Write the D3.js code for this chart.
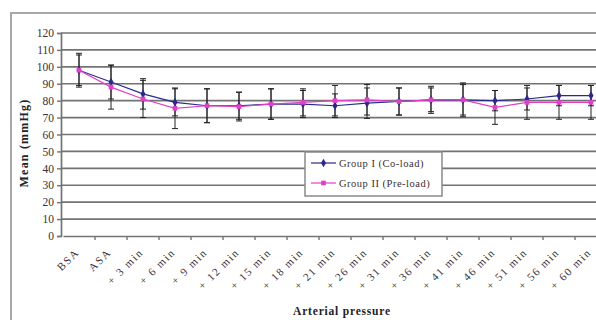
<!DOCTYPE html>
<html>
<head>
<meta charset="utf-8">
<script src="https://cdn.jsdelivr.net/npm/d3@7"></script>
<style>
  body { margin: 0; background: #fff; }
  svg { display: block; font-family: "Liberation Serif", "DejaVu Serif", serif; }
</style>
</head>
<body>
<div id="chart"></div>
<script>
const categories = ["BSA", "ASA", "+ 3 min", "+ 6 min", "+ 9 min", "+ 12 min", "+ 15 min", "+ 18 min",
  "+ 21 min", "+ 26 min", "+ 31 min", "+ 36 min", "+ 41 min", "+ 46 min", "+ 51 min", "+ 56 min", "+ 60 min"];
const group1 = [98, 91, 84, 79, 77, 77, 78, 78, 77, 78.5, 79.5, 80.5, 80.5, 80, 81, 83, 83];
const group1Err = [9, 10, 9, 8, 10, 8, 9, 8, 7, 9, 8, 7, 9, 6, 6.5, 6, 6];
const group2 = [98, 88, 81, 75.5, 77, 76.5, 78, 79, 80, 80.5, 79.5, 80.5, 80.5, 76, 79, 79, 79];
const group2Err = [10, 13, 11, 12, 10, 8.5, 9, 8, 9, 9, 8, 8, 10, 10, 10, 10, 10];
const yTicks = [0, 10, 20, 30, 40, 50, 60, 70, 80, 90, 100, 110, 120];

const series = [
  { name: "Group I (Co-load)", values: group1, err: group1Err, color: "#2a2a8a", marker: "diamond" },
  { name: "Group II (Pre-load)", values: group2, err: group2Err, color: "#e040c8", marker: "square" }
];

const W = 596, H = 320;
const svg = d3.select("#chart").append("svg").attr("width", W).attr("height", H);

// outer frame (right/bottom edges fall outside the picture)
svg.append("rect").attr("x", 11).attr("y", 13).attr("width", 620).attr("height", 340)
  .attr("fill", "#fff").attr("stroke", "#a8a8a8").attr("stroke-width", 2);

const x = d3.scaleBand().domain(categories).range([63, 63 + 32 * categories.length]);
const y = d3.scaleLinear().domain([0, 120]).range([236, 33]);
const cx = c => x(c) + x.bandwidth() / 2;

// gridlines
svg.append("g").selectAll("line").data(yTicks.filter(d => d > 0)).join("line")
  .attr("x1", 61).attr("x2", W).attr("y1", d => y(d)).attr("y2", d => y(d))
  .attr("stroke", "#737373").attr("stroke-width", 1.7);

// axes
const yAxis = svg.append("g").attr("transform", "translate(61,0)")
  .call(d3.axisLeft(y).tickValues(yTicks).tickSize(4).tickPadding(3));
yAxis.select(".domain").attr("stroke", "#737373").attr("stroke-width", 1.7);
yAxis.selectAll(".tick line").attr("stroke", "#737373").attr("stroke-width", 1.4);
yAxis.selectAll("text").attr("font-size", 11.5).attr("fill", "#3a3030")
  .attr("font-family", "Liberation Serif, serif");

const xAxis = svg.append("g").attr("transform", "translate(0,236)")
  .call(d3.axisBottom(x).tickSize(0).tickFormat(""));
xAxis.select(".domain").attr("stroke", "#737373").attr("stroke-width", 1.7);
svg.append("g").selectAll("line").data(categories.slice(1)).join("line")
  .attr("x1", d => x(d)).attr("x2", d => x(d)).attr("y1", 236).attr("y2", 240)
  .attr("stroke", "#737373").attr("stroke-width", 1.4);

svg.append("g").selectAll("text").data(categories).join("text")
  .attr("transform", d => `translate(${cx(d) + 1},${253}) rotate(-45)`)
  .attr("text-anchor", "end").attr("font-size", 11).attr("letter-spacing", 1.6)
  .attr("fill", "#3a3030")
  .text(d => d);

// error bars
series.forEach(s => {
  const g = svg.append("g").attr("stroke", "#222").attr("stroke-width", 1);
  categories.forEach((c, i) => {
    const v = s.values[i], e = s.err[i], px = cx(c);
    g.append("line").attr("x1", px).attr("x2", px).attr("y1", y(v + e)).attr("y2", y(v - e));
    g.append("line").attr("x1", px - 3).attr("x2", px + 3).attr("y1", y(v + e)).attr("y2", y(v + e));
    g.append("line").attr("x1", px - 3).attr("x2", px + 3).attr("y1", y(v - e)).attr("y2", y(v - e));
  });
});

// lines and markers
const line = d3.line().x((d, i) => cx(categories[i])).y(d => y(d));
series.forEach(s => {
  svg.append("path").datum(s.values).attr("d", line)
    .attr("fill", "none").attr("stroke", s.color).attr("stroke-width", 1.2);
  const sym = s.marker === "diamond" ? d3.symbolDiamond : d3.symbolSquare;
  svg.append("g").selectAll("path").data(s.values).join("path")
    .attr("transform", (d, i) => `translate(${cx(categories[i])},${y(d)})`)
    .attr("d", d3.symbol(sym, 22)).attr("fill", s.color);
});

// legend
const lg = svg.append("g").attr("transform", "translate(305,152)");
lg.append("rect").attr("width", 137).attr("height", 44)
  .attr("fill", "#fff").attr("stroke", "#8a8a8a").attr("stroke-width", 1.5);
series.forEach((s, i) => {
  const ly = 11 + i * 20;
  lg.append("line").attr("x1", 6).attr("x2", 31).attr("y1", ly).attr("y2", ly)
    .attr("stroke", s.color).attr("stroke-width", 1.2);
  lg.append("path").attr("transform", `translate(18.5,${ly})`)
    .attr("d", d3.symbol(s.marker === "diamond" ? d3.symbolDiamond : d3.symbolSquare, 22))
    .attr("fill", s.color);
  lg.append("text").attr("x", 34).attr("y", ly + 3.5).attr("font-size", 10.5)
    .attr("letter-spacing", 0.5).attr("fill", "#3a3030")
    .text(s.name);
});

// axis titles
svg.append("text").attr("transform", "translate(28,143) rotate(-90)")
  .attr("text-anchor", "middle").attr("font-size", 12).attr("letter-spacing", 1.2)
  .attr("font-weight", "bold").attr("fill", "#222")
  .text("Mean (mmHg)");
svg.append("text").attr("x", 342).attr("y", 315)
  .attr("text-anchor", "middle").attr("font-size", 11.5).attr("letter-spacing", 0.8)
  .attr("font-weight", "bold").attr("fill", "#222")
  .text("Arterial pressure");
</script>
</body>
</html>
